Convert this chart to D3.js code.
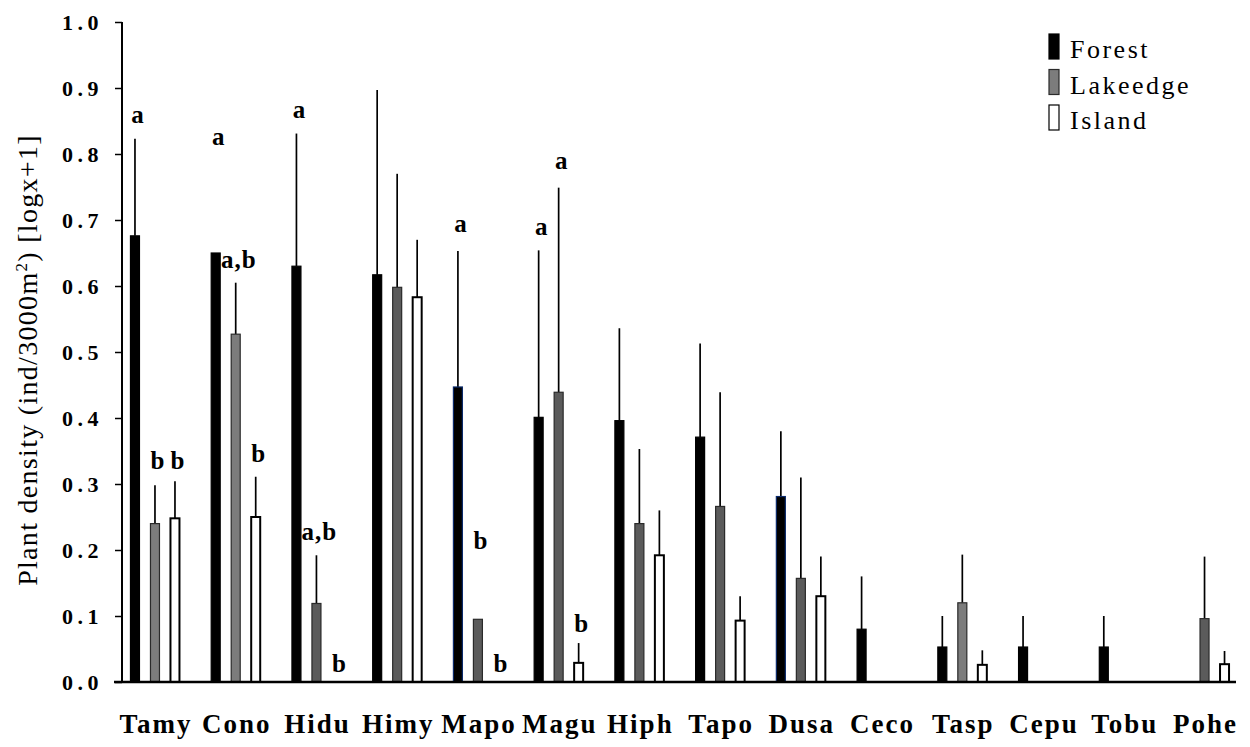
<!DOCTYPE html>
<html>
<head>
<meta charset="utf-8">
<script src="https://cdn.jsdelivr.net/npm/d3@7"></script>
<style>
  html, body { margin: 0; padding: 0; background: #fff; }
  svg { display: block; }
  text { font-family: "Liberation Serif", "Times New Roman", serif; fill: #000; }
</style>
</head>
<body>
<svg id="chart" width="1250" height="747"></svg>
<script>
// ---------------- data ----------------
const categories = ["Tamy","Cono","Hidu","Himy","Mapo","Magu","Hiph","Tapo","Dusa","Ceco","Tasp","Cepu","Tobu","Pohe"];
const seriesNames = ["Forest","Lakeedge","Island"];

const forest    = [0.676,0.650,0.630,0.617,0.447,0.401,0.396,0.371,0.281,0.080,0.053,0.053,0.053,null];
const forestErr = [0.147,null, 0.201,0.280,0.206,0.253,0.140,0.142,0.099,0.080,0.047,0.047,0.047,null];

const lake      = [0.240,0.527,0.119,0.598,0.095,0.439,0.240,0.266,0.157,null,0.120,null,null,0.096];
const lakeErr   = [0.058,0.078,0.073,0.172,null, 0.310,0.113,0.173,0.153,null,0.073,null,null,0.094];

const island    = [0.248,0.250,null, 0.583,null, 0.029,0.192,0.093,0.130,null,0.026,null,null,0.027];
const islandErr = [0.056,0.061,null, 0.087,null, 0.030,0.068,0.037,0.060,null,0.022,null,null,0.020];

// significance letters: category, series, text, value where the letter sits
const letterCats   = ["Tamy","Tamy","Tamy","Cono","Cono","Cono","Hidu","Hidu","Hidu","Mapo","Mapo","Mapo","Magu","Magu","Magu"];
const letterSeries = ["Forest","Lakeedge","Island","Forest","Lakeedge","Island","Forest","Lakeedge","Island","Forest","Lakeedge","Island","Forest","Lakeedge","Island"];
const letterTexts  = ["a","b","b","a","a,b","b","a","a,b","b","a","b","b","a","a","b"];
const letterAt     = [0.847,0.323,0.323,0.814,0.627,0.333,0.855,0.215,0.015,0.682,0.202,0.015,0.677,0.777,0.076];

const yTicks = [0,0.1,0.2,0.3,0.4,0.5,0.6,0.7,0.8,0.9,1.0];
const yLabel = "Plant density (ind/3000m";

// ---------------- styles ----------------
const fills   = { Forest: "#000000", Lakeedge: "#5b5b5b", Island: "#ffffff" };
const strokes = { Forest: "#000000", Lakeedge: "#2a2a2a", Island: "#000000" };
const lightLake = new Set(["Tamy","Cono","Tasp"]);
const blueEdgeForest = new Set(["Mapo","Dusa"]);
const serif = '"Liberation Serif", "Times New Roman", serif';

// ---------------- layout ----------------
const svg = d3.select("#chart");
const axisX = 122, xAxisLeft = 114, xAxisRight = 1236;

const x0 = d3.scaleBand().domain(categories).range([114.6, 1244.9]).padding(0);
const x1 = d3.scalePoint().domain(seriesNames).range([-20, 20]);
const y  = d3.scaleLinear().domain([0, 1]).range([682, 22]);
const barW = 9;

const seriesData = {
  Forest:   { v: forest, e: forestErr },
  Lakeedge: { v: lake,   e: lakeErr },
  Island:   { v: island, e: islandErr }
};

const rows = [];
categories.forEach((c, i) => {
  seriesNames.forEach(s => {
    const v = seriesData[s].v[i];
    if (v !== null) rows.push({ cat: c, series: s, value: v, err: seriesData[s].e[i] });
  });
});
const cx = d => x0(d.cat) + x0.bandwidth() / 2 + x1(d.series);

// error bars (behind bars)
svg.append("g").selectAll("line")
  .data(rows.filter(d => d.err !== null))
  .join("line")
  .attr("x1", cx).attr("x2", cx)
  .attr("y1", d => y(d.value)).attr("y2", d => y(d.value + d.err))
  .attr("stroke", "#000").attr("stroke-width", 1.7);

// bars
svg.append("g").selectAll("rect")
  .data(rows)
  .join("rect")
  .attr("x", d => cx(d) - barW / 2)
  .attr("width", barW)
  .attr("y", d => y(d.value))
  .attr("height", d => y(0) - y(d.value))
  .attr("fill", d => d.series === "Lakeedge" && lightLake.has(d.cat) ? "#7c7c7c" : fills[d.series])
  .attr("stroke", d => d.series === "Forest" && blueEdgeForest.has(d.cat) ? "#0b2a6b" : strokes[d.series])
  .attr("stroke-width", d => d.series === "Island" ? 2 : 1.2);

// axes
const yAxis = d3.axisLeft(y).tickValues(yTicks).tickSize(7).tickPadding(12).tickFormat(d3.format(".1f"));
const gy = svg.append("g").attr("transform", `translate(${axisX},0)`).call(yAxis);
gy.select(".domain").attr("stroke", "#000").attr("stroke-width", 2).attr("d", `M0,${y(1)}V${y(0)}`);
gy.selectAll(".tick line").attr("stroke", "#000").attr("stroke-width", 1.5);
gy.selectAll(".tick text")
  .style("font-family", serif)
  .style("font-size", "22px")
  .style("font-weight", "bold")
  .style("letter-spacing", "4.5px")
  .attr("fill", "#000");

svg.append("line")
  .attr("x1", xAxisLeft).attr("x2", xAxisRight)
  .attr("y1", y(0)).attr("y2", y(0))
  .attr("stroke", "#000").attr("stroke-width", 2.5);

const xAxis = d3.axisBottom(x0).tickSize(0).tickPadding(0);
const gx = svg.append("g").attr("transform", `translate(0,${y(0)})`).call(xAxis);
gx.select(".domain").remove();
gx.selectAll(".tick text")
  .attr("dy", null)
  .attr("y", 51)
  .attr("dx", "1")
  .style("font-family", serif)
  .style("font-size", "27px")
  .style("font-weight", "bold")
  .style("letter-spacing", "2px")
  .attr("fill", "#000");

// y label
const yl = svg.append("text")
  .attr("transform", "translate(37,360) rotate(-90)")
  .attr("text-anchor", "middle")
  .style("font-size", "28px")
  .style("letter-spacing", "1.3px");
yl.append("tspan").text(yLabel);
yl.append("tspan").attr("dy", -10).style("font-size", "17px").text("2");
yl.append("tspan").attr("dy", 10).text(") [logx+1]");

// significance letters
svg.append("g").selectAll("text")
  .data(letterTexts.map((t, i) => ({ cat: letterCats[i], series: letterSeries[i], text: t, at: letterAt[i] })))
  .join("text")
  .attr("x", d => x0(d.cat) + x0.bandwidth() / 2 + x1(d.series) + 3)
  .attr("y", d => y(d.at))
  .attr("text-anchor", "middle")
  .style("font-size", "25px")
  .style("font-weight", "bold")
  .style("letter-spacing", "1px")
  .text(d => d.text);

// legend
const legend = svg.append("g").attr("transform", "translate(1049,34)");
seriesNames.forEach((s, i) => {
  const g = legend.append("g").attr("transform", `translate(0,${i * 35.5})`);
  g.append("rect").attr("x", 0).attr("y", 0).attr("width", 10).attr("height", 25)
    .attr("fill", s === "Lakeedge" ? "#7c7c7c" : fills[s])
    .attr("stroke", s === "Island" ? "#000" : strokes[s]).attr("stroke-width", 1.2);
  g.append("text").attr("x", 21).attr("y", 24)
    .style("font-size", "26px").style("letter-spacing", "2.5px").text(s);
});
</script>
</body>
</html>
